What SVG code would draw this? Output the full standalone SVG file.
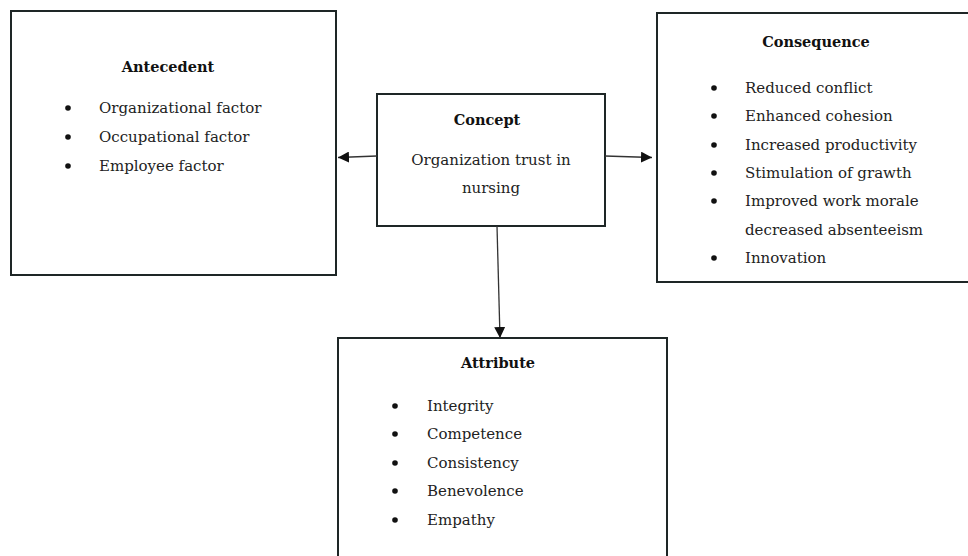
<svg xmlns="http://www.w3.org/2000/svg" width="968" height="556" viewBox="0 0 968 556">
<defs>
<style>
.box{fill:#fff;stroke:#1e2626;stroke-width:2}
.t{font-family:"DejaVu Serif","Liberation Serif",serif;font-size:15px;fill:#222}
.h{font-family:"DejaVu Serif","Liberation Serif",serif;font-size:14.5px;font-weight:bold;fill:#111;text-anchor:middle}
.c{text-anchor:middle}
.bul{fill:#111}
.ln{stroke:#333;stroke-width:1.3;fill:none}
</style>
<marker id="ah" viewBox="0 0 10 10" refX="10" refY="5" markerWidth="11" markerHeight="11" markerUnits="userSpaceOnUse" orient="auto">
<path d="M0,0 L10,5 L0,10 z" fill="#111"/>
</marker>
</defs>
<rect width="968" height="556" fill="#fff"/>
<g id="antecedent">
<rect class="box" x="11" y="11" width="325" height="264"/>
<text class="h" x="168" y="72">Antecedent</text>
<circle class="bul" cx="68" cy="108" r="2.8"/>
<circle class="bul" cx="68" cy="137" r="2.8"/>
<circle class="bul" cx="68" cy="166" r="2.8"/>
<text class="t" x="99" y="113">Organizational factor</text>
<text class="t" x="99" y="142">Occupational factor</text>
<text class="t" x="99" y="171">Employee factor</text>
</g>
<g id="concept">
<rect class="box" x="377" y="94" width="228" height="132"/>
<text class="h" x="487" y="125">Concept</text>
<text class="t c" x="491" y="165">Organization trust in</text>
<text class="t c" x="491" y="193">nursing</text>
</g>
<g id="consequence">
<rect class="box" x="657" y="13" width="320" height="269"/>
<text class="h" x="816" y="47">Consequence</text>
<circle class="bul" cx="714" cy="88" r="2.8"/>
<circle class="bul" cx="714" cy="116" r="2.8"/>
<circle class="bul" cx="714" cy="145" r="2.8"/>
<circle class="bul" cx="714" cy="173" r="2.8"/>
<circle class="bul" cx="714" cy="201" r="2.8"/>
<circle class="bul" cx="714" cy="258" r="2.8"/>
<text class="t" x="745" y="93">Reduced conflict</text>
<text class="t" x="745" y="121">Enhanced cohesion</text>
<text class="t" x="745" y="150">Increased productivity</text>
<text class="t" x="745" y="178">Stimulation of grawth</text>
<text class="t" x="745" y="206">Improved work morale</text>
<text class="t" x="745" y="235">decreased absenteeism</text>
<text class="t" x="745" y="263">Innovation</text>
</g>
<g id="attribute">
<rect class="box" x="338" y="338" width="329" height="230"/>
<text class="h" x="498" y="368">Attribute</text>
<circle class="bul" cx="395" cy="406" r="2.8"/>
<circle class="bul" cx="395" cy="434" r="2.8"/>
<circle class="bul" cx="395" cy="463" r="2.8"/>
<circle class="bul" cx="395" cy="491" r="2.8"/>
<circle class="bul" cx="395" cy="520" r="2.8"/>
<text class="t" x="427" y="411">Integrity</text>
<text class="t" x="427" y="439">Competence</text>
<text class="t" x="427" y="468">Consistency</text>
<text class="t" x="427" y="496">Benevolence</text>
<text class="t" x="427" y="525">Empathy</text>
</g>
<g id="connectors">
<line class="ln" x1="377" y1="156" x2="338" y2="157.5" marker-end="url(#ah)"/>
<line class="ln" x1="605" y1="156" x2="652" y2="157.5" marker-end="url(#ah)"/>
<line class="ln" x1="497" y1="226" x2="500" y2="338" marker-end="url(#ah)"/>
</g>
</svg>
